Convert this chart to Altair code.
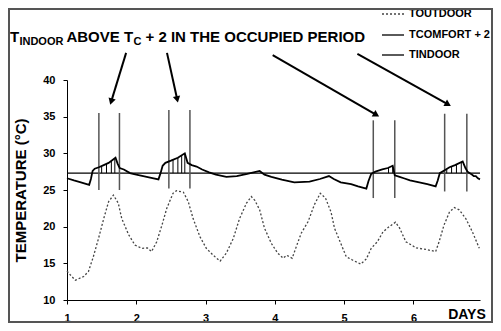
import math
import altair as alt
import numpy as np
import pandas as pd

# ---------------- data ----------------
indoor_day = [1.00, 1.10, 1.20, 1.32, 1.345, 1.37, 1.40, 1.46, 1.53, 1.60, 1.70, 1.73, 1.76, 1.82,
              1.91, 2.00, 2.10, 2.20, 2.32, 2.35, 2.38, 2.42, 2.50, 2.60, 2.70, 2.74, 2.80, 2.87,
              2.95, 3.05, 3.15, 3.30, 3.45, 3.60, 3.78, 3.85, 3.95, 4.10, 4.28, 4.50, 4.65, 4.78,
              4.85, 4.95, 5.10, 5.20, 5.32, 5.35, 5.39, 5.45, 5.55, 5.63, 5.70, 5.73, 5.80, 5.86,
              5.95, 6.05, 6.20, 6.32, 6.35, 6.38, 6.45, 6.52, 6.60, 6.71, 6.75, 6.78, 6.83, 6.87,
              6.90, 6.93, 6.96]
indoor_temp = [26.6, 26.3, 26.05, 25.7, 26.5, 27.6, 27.9, 28.1, 28.4, 28.7, 29.4, 28.6, 28.0, 27.8,
               27.3, 27.1, 26.9, 26.7, 26.45, 27.3, 28.3, 28.7, 29.0, 29.4, 30.0, 28.7, 28.4, 28.2,
               27.8, 27.4, 27.1, 26.8, 26.9, 27.2, 27.6, 27.1, 26.8, 26.4, 26.05, 26.15, 26.5, 26.9,
               26.5, 26.05, 25.8, 25.5, 25.2, 26.2, 27.2, 27.5, 27.8, 28.0, 28.3, 27.0, 26.8, 26.6,
               26.3, 26.1, 25.8, 25.5, 26.3, 27.3, 27.7, 28.1, 28.4, 28.9, 28.0, 27.5, 27.2, 26.9,
               26.9, 26.6, 26.45]

outdoor_day = [1.00, 1.05, 1.12, 1.24, 1.31, 1.38, 1.455, 1.53, 1.60, 1.67, 1.74, 1.79, 1.89, 1.98,
               2.08, 2.16, 2.22, 2.295, 2.37, 2.44, 2.53, 2.58, 2.68, 2.75, 2.82, 2.92, 3.01, 3.11,
               3.21, 3.30, 3.40, 3.49, 3.59, 3.66, 3.71, 3.78, 3.85, 3.95, 4.04, 4.12, 4.17, 4.25,
               4.31, 4.38, 4.48, 4.57, 4.655, 4.73, 4.81, 4.86, 4.93, 5.03, 5.12, 5.24, 5.32, 5.39,
               5.48, 5.56, 5.65, 5.74, 5.80, 5.89, 6.04, 6.18, 6.32, 6.37, 6.44, 6.52, 6.59, 6.66,
               6.755, 6.85, 6.95]
outdoor_temp = [13.95, 13.4, 12.7, 13.2, 13.9, 15.9, 18.4, 21.1, 23.4, 24.3, 23.2, 21.1, 18.9, 17.5,
                17.05, 17.1, 16.6, 17.95, 20.2, 22.5, 24.55, 24.9, 24.7, 23.4, 21.1, 18.6, 17.05, 16.1,
                15.3, 16.4, 18.4, 21.1, 23.2, 24.1, 23.6, 22.3, 19.8, 17.7, 16.4, 15.7, 16.1, 15.7,
                17.3, 19.1, 20.7, 23.0, 24.55, 23.9, 22.0, 19.8, 18.2, 15.9, 15.45, 14.9, 15.6, 17.05,
                17.95, 19.3, 20.0, 20.6, 19.8, 17.95, 17.1, 16.9, 16.6, 17.95, 20.2, 22.0, 22.6, 22.3,
                21.1, 19.3, 17.05]

comfort_day = [1.0, 6.96]
comfort_temp = [27.3, 27.3]

occ_start = [1.46, 2.47, 5.42, 6.45]
occ_end = [1.757, 2.774, 5.73, 6.77]
occ_top = [35.5, 35.9, 34.5, 35.4]
occ_bottom = [25.0, 25.2, 23.9, 24.8]

hatch_day = [1.50, 1.57, 1.64, 1.69, 2.53, 2.60, 2.655, 2.70, 5.64, 5.70, 6.48, 6.55, 6.62, 6.69]

arrow_from_day = [1.853, 2.443, 3.968, 5.191]
arrow_from_temp = [43.7, 43.7, 43.4, 43.55]
arrow_to_day = [1.623, 2.601, 5.508, 6.543]
arrow_to_temp = [36.6, 36.9, 35.0, 36.45]

x_ticks = [1, 1.5, 2, 2.5, 3, 3.5, 4, 4.5, 5, 5.5, 6, 6.5]
y_ticks = [10, 15, 20, 25, 30, 35, 40]

legend_labels = ["TOUTDOOR", "TCOMFORT + 2", "TINDOOR"]

# ---------------- layout ----------------
W, H = 413, 220
X_DOM = [1, 6.96]
Y_DOM = [10, 40]
FONT = "Liberation Sans"

xs = alt.Scale(domain=X_DOM, nice=False, zero=False)
ys = alt.Scale(domain=Y_DOM, nice=False, zero=False)

xax = alt.Axis(
    values=x_ticks, format="d",
    labelExpr="datum.value % 1 == 0 ? format(datum.value, 'd') : ''",
    title=None, grid=False, tickSize=4, tickColor="black", domainColor="black",
    labelFont=FONT, labelFontSize=11, labelFontWeight="bold", labelColor="black",
    labelPadding=8, labelFlush=False)
yax = alt.Axis(
    values=y_ticks, title="TEMPERATURE (°C)", grid=False, tickSize=4,
    tickColor="black", domainColor="black",
    labelFont=FONT, labelFontSize=11, labelFontWeight="bold", labelColor="black",
    labelPadding=8, titleFont=FONT, titleFontSize=15, titleFontWeight="bold",
    titleColor="black", titlePadding=14)

indoor = pd.DataFrame({"day": indoor_day, "temp": indoor_temp})
outdoor = pd.DataFrame({"day": outdoor_day, "temp": outdoor_temp})
comfort = pd.DataFrame({"day": comfort_day, "temp": comfort_temp})
occ = pd.DataFrame({
    "day": occ_start + occ_end,
    "top": occ_top + occ_top,
    "bottom": occ_bottom + occ_bottom,
})
hatch = pd.DataFrame({
    "day": hatch_day,
    "top": np.interp(hatch_day, indoor_day, indoor_temp),
    "bottom": [comfort_temp[0]] * len(hatch_day),
})

ppd = W / (X_DOM[1] - X_DOM[0])
ppt = H / (Y_DOM[1] - Y_DOM[0])
angles, hx, hy = [], [], []
for fd, ft, td, tt in zip(arrow_from_day, arrow_from_temp, arrow_to_day, arrow_to_temp):
    dx = (td - fd) * ppd
    dy = -(tt - ft) * ppt
    ang = math.degrees(math.atan2(dx, -dy)) % 360
    angles.append(ang)
    L = math.hypot(dx, dy)
    back = 3.5
    hx.append(td - dx / L * back / ppd)
    hy.append(tt + dy / L * back / ppt)
arrows = pd.DataFrame({"d1": arrow_from_day, "t1": arrow_from_temp,
                       "d2": arrow_to_day, "t2": arrow_to_temp,
                       "hx": hx, "hy": hy, "ang": angles})


def X(f="day"):
    return alt.X(f"{f}:Q", scale=xs, axis=xax)


def Y(f="temp"):
    return alt.Y(f"{f}:Q", scale=ys, axis=yax)


outdoor_line = alt.Chart(outdoor).mark_line(
    color="#444", strokeWidth=1.3, strokeDash=[2, 2]).encode(x=X(), y=Y())
comfort_line = alt.Chart(comfort).mark_line(color="black", strokeWidth=1.3).encode(x=X(), y=Y())
hatch_lines = alt.Chart(hatch).mark_rule(color="black", strokeWidth=1).encode(
    x=X(), y=Y("top"), y2="bottom:Q")
occ_lines = alt.Chart(occ).mark_rule(color="#555", strokeWidth=1.5).encode(
    x=X(), y=Y("top"), y2="bottom:Q")
indoor_line = alt.Chart(indoor).mark_line(color="black", strokeWidth=1.8).encode(x=X(), y=Y())

arrow_shafts = alt.Chart(arrows).mark_rule(color="black", strokeWidth=2).encode(
    x=X("d1"), y=Y("t1"), x2="hx:Q", y2="hy:Q")
arrow_heads = alt.Chart(arrows).mark_point(
    shape="triangle-up", filled=True, color="black", opacity=1, size=55).encode(
    x=X("hx"), y=Y("hy"), angle=alt.Angle("ang:Q", scale=None))

one = pd.DataFrame({"a": [0]})


def txt(s, x, y, size, align="left", baseline="alphabetic"):
    return alt.Chart(one).mark_text(
        text=s, font=FONT, fontSize=size, fontWeight="bold", color="black",
        align=align, baseline=baseline).encode(x=alt.value(x), y=alt.value(y))


title_parts = [
    txt("T", -57, -38, 15),
    txt("INDOOR", -47.6, -35.5, 11),
    txt("ABOVE T", -0.6, -38, 15),
    txt("C", 66.4, -35.5, 11),
    txt("+ 2 IN THE OCCUPIED PERIOD", 78.5, -38, 15),
]

leg_y = [-66, -45, -25]
legend = []
for lab, yy, dash in zip(legend_labels, leg_y, [[2, 2], None, None]):
    kw = dict(color="#444" if dash else "black", strokeWidth=1.3)
    if dash:
        kw["strokeDash"] = dash
    legend.append(alt.Chart(one).mark_rule(**kw).encode(
        x=alt.value(315), x2=alt.value(337), y=alt.value(yy), y2=alt.value(yy)))
    legend.append(txt(lab, 342, yy, 11, baseline="middle"))

days_lbl = txt("DAYS", 400, 235, 14, align="center", baseline="middle")

border = alt.Chart(one).mark_rect(fill=None, stroke="#555", strokeWidth=2).encode(
    x=alt.value(-58), x2=alt.value(425), y=alt.value(-71), y2=alt.value(242))

chart = alt.layer(
    outdoor_line, comfort_line, hatch_lines, occ_lines, indoor_line,
    arrow_shafts, arrow_heads, *title_parts, *legend, days_lbl, border
).properties(
    width=W, height=H, autosize="none", background="white",
    padding={"left": 59, "top": 72, "right": 13, "bottom": 23},
).configure_view(stroke=None)

chart.save("out.html", embed_options={"renderer": "svg", "actions": False})
